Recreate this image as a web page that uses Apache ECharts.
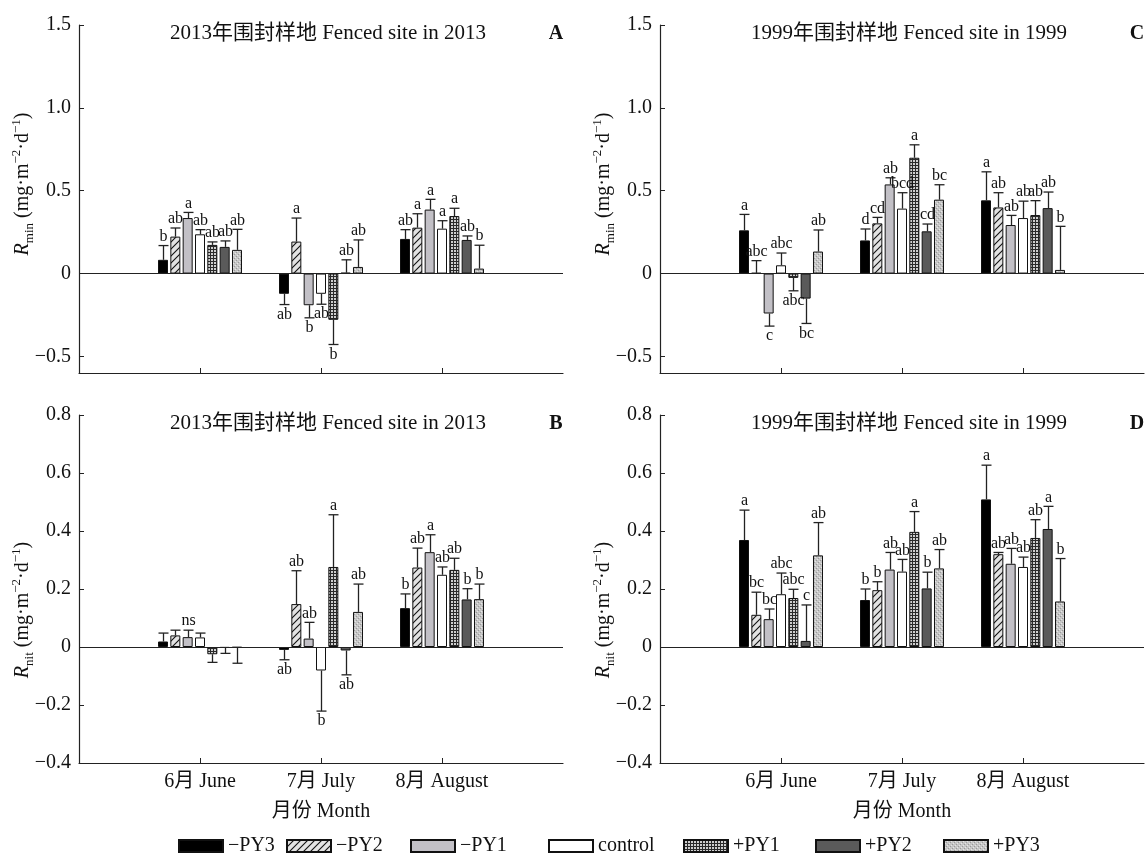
<!DOCTYPE html>
<html><head><meta charset="utf-8">
<script src="https://cdn.jsdelivr.net/npm/echarts@6/dist/echarts.min.js"></script>
<style>html,body{margin:0;padding:0;background:#fff}#c{width:1146px;height:854px}</style>
</head><body><div id="c"></div>
<script>
// ---------- data ----------
const treatments = ['\u2212PY3', '\u2212PY2', '\u2212PY1', 'control', '+PY1', '+PY2', '+PY3'];
const months = ['6月 June', '7月 July', '8月 August'];
const yTicksMin = [-0.5, 0, 0.5, 1.0, 1.5];
const yTicksNit = [-0.4, -0.2, 0, 0.2, 0.4, 0.6, 0.8];

// Panel A: R_min, fenced site 2013 (rows = months, cols = treatments)
const meanA = [
  [0.083, 0.223, 0.335, 0.237, 0.173, 0.161, 0.143],
  [-0.122, 0.193, -0.191, -0.122, -0.279, 0.005, 0.040],
  [0.209, 0.277, 0.386, 0.271, 0.347, 0.203, 0.030]
];
const seA = [
  [0.086, 0.052, 0.034, 0.028, 0.018, 0.036, 0.124],
  [0.065, 0.142, 0.076, 0.063, 0.149, 0.078, 0.163],
  [0.056, 0.084, 0.062, 0.048, 0.047, 0.024, 0.141]
];
const letA = [
  ['b', 'ab', 'a', 'ab', 'ab', 'ab', 'ab'],
  ['ab', 'a', 'b', 'ab', 'b', 'ab', 'ab'],
  ['ab', 'a', 'a', 'a', 'a', 'ab', 'b']
];
// Panel B: R_nit, fenced site 2013
const meanB = [
  [0.019, 0.040, 0.034, 0.033, -0.025, -0.003, -0.002],
  [-0.010, 0.148, 0.029, -0.081, 0.276, -0.012, 0.121],
  [0.134, 0.274, 0.327, 0.249, 0.266, 0.164, 0.165]
];
const seB = [
  [0.029, 0.018, 0.024, 0.015, 0.028, 0.019, 0.054],
  [0.034, 0.115, 0.056, 0.140, 0.180, 0.084, 0.096],
  [0.049, 0.067, 0.060, 0.027, 0.040, 0.037, 0.052]
];
const letB = [
  ['', '', 'ns', '', '', '', ''],
  ['ab', 'ab', 'ab', 'b', 'a', 'ab', 'ab'],
  ['b', 'ab', 'a', 'ab', 'ab', 'b', 'b']
];
// Panel C: R_min, fenced site 1999
const meanC = [
  [0.261, 0.004, -0.241, 0.050, -0.026, -0.151, 0.133],
  [0.200, 0.303, 0.538, 0.392, 0.699, 0.255, 0.446],
  [0.442, 0.399, 0.293, 0.335, 0.353, 0.395, 0.022]
];
const seC = [
  [0.096, 0.074, 0.076, 0.074, 0.078, 0.150, 0.130],
  [0.069, 0.036, 0.040, 0.096, 0.078, 0.044, 0.090],
  [0.172, 0.089, 0.058, 0.102, 0.087, 0.097, 0.263]
];
const letC = [
  ['a', 'abc', 'c', 'abc', 'abc', 'bc', 'ab'],
  ['d', 'cd', 'ab', 'bcd', 'a', 'cd', 'bc'],
  ['a', 'ab', 'ab', 'ab', 'ab', 'ab', 'b']
];
// Panel D: R_nit, fenced site 1999
const meanD = [
  [0.369, 0.111, 0.096, 0.182, 0.169, 0.021, 0.316],
  [0.162, 0.196, 0.267, 0.260, 0.397, 0.202, 0.271],
  [0.509, 0.320, 0.287, 0.276, 0.376, 0.407, 0.157]
];
const seD = [
  [0.103, 0.078, 0.035, 0.073, 0.030, 0.124, 0.113],
  [0.038, 0.029, 0.059, 0.042, 0.070, 0.056, 0.065],
  [0.118, 0.006, 0.053, 0.034, 0.063, 0.078, 0.148]
];
const letD = [
  ['a', 'bc', 'bc', 'abc', 'abc', 'c', 'ab'],
  ['b', 'b', 'ab', 'ab', 'a', 'b', 'ab'],
  ['a', 'ab', 'ab', 'ab', 'ab', 'a', 'b']
];
const titles2013 = '2013年围封样地 Fenced site in 2013';
const titles1999 = '1999年围封样地 Fenced site in 1999';

// ---------- style ----------
const FF = "'Liberation Serif','Times New Roman','Noto Sans CJK SC',serif";
const BAR_W = 10, GAP = 0.233, PITCH = BAR_W * (1 + GAP), CAP = 5;
const LEGEND_LEFT = [178, 286, 410, 548, 683, 815, 943];

function tile(w, h, draw) {
  const c = document.createElement('canvas'); c.width = w; c.height = h;
  draw(c.getContext('2d')); return c;
}
const hatch = tile(7, 7, g => {
  g.fillStyle = '#e2e2e2'; g.fillRect(0, 0, 7, 7);
  g.strokeStyle = '#111'; g.lineWidth = 1.1;
  g.beginPath(); g.moveTo(-1, 8); g.lineTo(8, -1); g.moveTo(-2, 2); g.lineTo(2, -2); g.moveTo(5, 9); g.lineTo(9, 5); g.stroke();
});
const gridPat = tile(3, 3, g => {
  g.fillStyle = '#cfcfcf'; g.fillRect(0, 0, 3, 3);
  g.fillStyle = '#2a2a2a'; g.fillRect(0, 0, 3, 1); g.fillRect(0, 0, 1, 3);
});
const dotPat = tile(4, 4, g => {
  g.fillStyle = '#c6c6c6'; g.fillRect(0, 0, 4, 4);
  g.fillStyle = '#9a9a9a'; g.fillRect(0, 0, 1, 1); g.fillRect(2, 2, 1, 1);
  g.fillStyle = '#e6e6e6'; g.fillRect(1, 3, 1, 1); g.fillRect(3, 1, 1, 1);
});
const fills = ['#000000', {image: hatch, repeat: 'repeat'}, '#c2c0c6', '#ffffff',
  {image: gridPat, repeat: 'repeat'}, '#5a5a5a', {image: dotPat, repeat: 'repeat'}];

const panels = [
  {mean: meanA, se: seA, let: letA, sub: 'min', min: -0.6, max: 1.5, ticks: yTicksMin, left: 79, top: 25, showX: false, title: titles2013, tag: 'A', pad: [0, 0, 0, 30]},
  {mean: meanB, se: seB, let: letB, sub: 'nit', min: -0.4, max: 0.8, ticks: yTicksNit, left: 79, top: 415, showX: true, title: titles2013, tag: 'B', pad: [0, 42, 0, 0]},
  {mean: meanC, se: seC, let: letC, sub: 'min', min: -0.6, max: 1.5, ticks: yTicksMin, left: 660, top: 25, showX: false, title: titles1999, tag: 'C', pad: [0, 0, 0, 30]},
  {mean: meanD, se: seD, let: letD, sub: 'nit', min: -0.4, max: 0.8, ticks: yTicksNit, left: 660, top: 415, showX: true, title: titles1999, tag: 'D', pad: [0, 42, 0, 0]}
];
const GW = 484, GH = 348;
const cats = [''].concat(months, ['']);
const inner = i => i >= 1 && i <= 3;
const fmt = v => Math.abs(v) < 1e-9 ? '0' : (v < 0 ? '\u2212' : '') + Math.abs(v).toFixed(1);

const grid = [], xAxis = [], yAxis = [], series = [], graphic = [];
panels.forEach((p, k) => {
  grid.push({left: p.left, top: p.top, width: GW, height: GH, containLabel: false});
  xAxis.push({
    type: 'category', gridIndex: k, data: cats, boundaryGap: false,
    axisLine: {onZero: false, lineStyle: {color: '#222', width: 1.2}},
    axisTick: {show: true, inside: true, length: 5, interval: inner, lineStyle: {color: '#222'}},
    axisLabel: {show: p.showX, interval: inner, fontFamily: FF, fontSize: 20, color: '#111', margin: 9},
    splitLine: {show: false},
    name: p.showX ? '月份 Month' : '', nameLocation: 'middle', nameGap: 39,
    nameTextStyle: {fontFamily: FF, fontSize: 20, color: '#111'}
  });
  yAxis.push({
    type: 'value', gridIndex: k, min: p.min, max: p.max,
    axisLine: {show: true, lineStyle: {color: '#222', width: 1.2}},
    axisTick: {show: true, inside: true, length: 5, customValues: p.ticks, lineStyle: {color: '#222'}},
    axisLabel: {customValues: p.ticks, formatter: fmt, fontFamily: FF, fontSize: 20, color: '#111', margin: 8},
    splitLine: {show: false},
    name: '{i|R}{s|' + p.sub + '}{n| (mg·m}{p|\u22122}{n|·d}{p|\u22121}{n|)}',
    nameLocation: 'middle', nameGap: 43, nameMoveOverlap: false,
    nameTextStyle: {
      padding: p.pad,
      rich: {
        i: {fontFamily: FF, fontSize: 20, fontStyle: 'italic', color: '#111', lineHeight: 26},
        n: {fontFamily: FF, fontSize: 20, color: '#111', lineHeight: 26},
        s: {fontFamily: FF, fontSize: 13, color: '#111', lineHeight: 13, verticalAlign: 'bottom'},
        p: {fontFamily: FF, fontSize: 13, color: '#111', lineHeight: 15, verticalAlign: 'top'}
      }
    }
  });
  treatments.forEach((tn, t) => {
    const s = {
      type: 'bar', name: tn, xAxisIndex: k, yAxisIndex: k,
      data: ['-'].concat(p.mean.map(row => row[t]), ['-']),
      barWidth: BAR_W, barGap: (GAP * 100).toFixed(1) + '%',
      itemStyle: {color: fills[t], borderColor: '#111', borderWidth: 1},
      emphasis: {disabled: true}, animation: false
    };
    if (t === 0) s.markLine = {
      silent: true, symbol: ['none', 'none'], label: {show: false}, animation: false,
      lineStyle: {color: '#222', width: 1.2, type: 'solid'}, data: [{yAxis: 0}]
    };
    series.push(s);
  });
  const errData = [];
  for (let m = 0; m < 3; m++) for (let t = 0; t < 7; t++) errData.push([m + 1, t, p.mean[m][t], p.se[m][t]]);
  series.push({
    type: 'custom', name: 'err' + k, xAxisIndex: k, yAxisIndex: k, z: 5, animation: false,
    encode: {x: 0, y: 2}, data: errData, silent: true,
    renderItem: (params, api) => {
      const cat = api.value(0), t = api.value(1), mv = api.value(2), sv = api.value(3);
      const end = mv >= 0 ? mv + sv : mv - sv;
      const p0 = api.coord([cat, mv]), p1 = api.coord([cat, end]);
      const x = Math.round(p0[0] + (t - 3) * PITCH) + 0.5;
      const st = {stroke: '#222', lineWidth: 1.3};
      const children = [
        {type: 'line', shape: {x1: x, y1: p0[1], x2: x, y2: p1[1]}, style: st},
        {type: 'line', shape: {x1: x - CAP, y1: p1[1], x2: x + CAP, y2: p1[1]}, style: st}
      ];
      const lab = p.let[cat - 1][t];
      if (lab) children.push({type: 'text', x: x, y: mv >= 0 ? p1[1] - 1 : p1[1] + 2,
        style: {text: lab, fill: '#111', font: '16px ' + FF, align: 'center', verticalAlign: mv >= 0 ? 'bottom' : 'top'}});
      return {type: 'group', children};
    }
  });
  graphic.push({type: 'text', x: p.left + 249, y: p.top + 8, silent: true,
    style: {text: p.title, font: '21px ' + FF, fill: '#111', align: 'center', verticalAlign: 'middle'}});
  graphic.push({type: 'text', x: p.left + 477, y: p.top + 9, silent: true,
    style: {text: p.tag, font: 'bold 20px ' + FF, fill: '#111', align: 'center', verticalAlign: 'middle'}});
});

const legend = treatments.map((tn, i) => ({
  data: [tn], left: LEGEND_LEFT[i], top: 836, padding: 0, icon: 'rect',
  itemWidth: 44, itemHeight: 12, itemGap: 0,
  textStyle: {fontFamily: FF, fontSize: 20, color: '#111'}, selectedMode: false
}));

const chart = echarts.init(document.getElementById('c'), null, {renderer: 'canvas'});
chart.setOption({
  backgroundColor: '#fff', animation: false,
  grid, xAxis, yAxis, series, graphic, legend
});
</script></body></html>
